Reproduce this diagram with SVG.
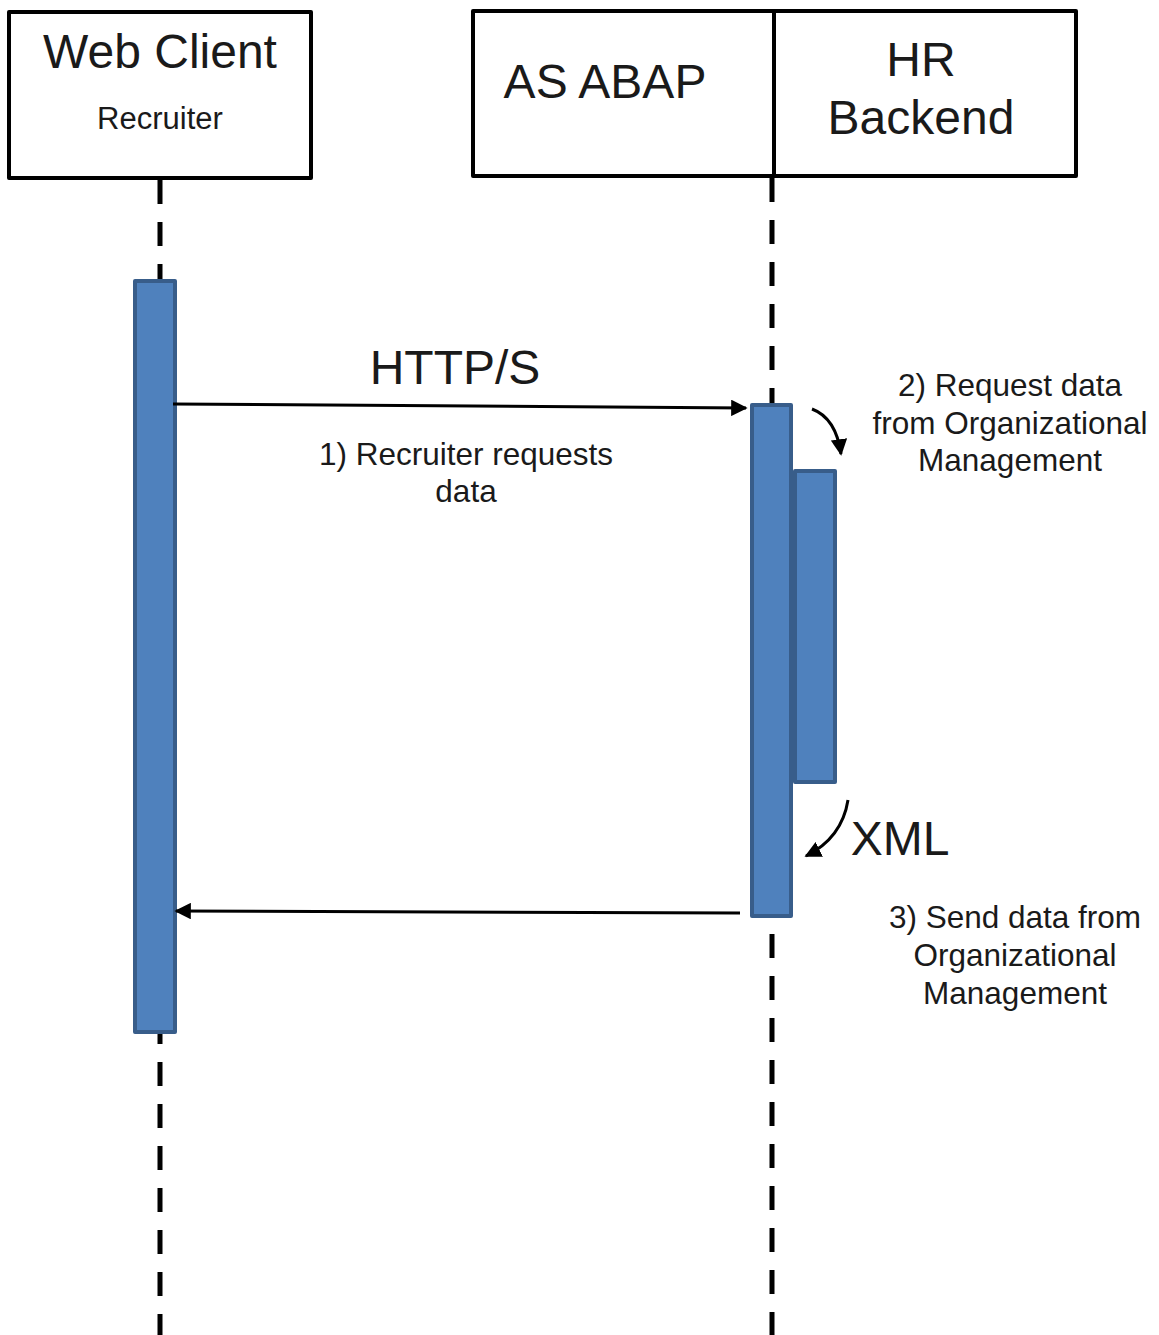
<svg xmlns="http://www.w3.org/2000/svg" width="1159" height="1335" viewBox="0 0 1159 1335">
<style>
.box{fill:#fff;stroke:#000;stroke-width:4;stroke-linejoin:round}
.life{stroke:#000;stroke-width:5;stroke-dasharray:24 18;fill:none}
.act{fill:#4F81BD;stroke:#385D8A;stroke-width:4;stroke-linejoin:round}
.msg{stroke:#000;stroke-width:3;fill:none}
.t{font-family:"Liberation Sans",Arial,sans-serif;fill:#1a1a1a;text-anchor:middle}
.big{font-size:48px}
.mid{font-size:31.5px}
</style>
<defs>
<marker id="ah" viewBox="0 0 10 10" refX="9" refY="5" markerWidth="5.5" markerHeight="5.5" markerUnits="strokeWidth" orient="auto">
<path d="M0,0 L10,5 L0,10 Z" fill="#000"/>
</marker>
</defs>
<rect width="1159" height="1335" fill="#fff"/>
<g id="lifelines">
<line class="life" x1="160" y1="180" x2="160" y2="1335"/>
<line class="life" x1="772" y1="178" x2="772" y2="1335"/>
</g>
<g id="web-client">
<rect class="box" x="9" y="12" width="302" height="166"/>
<text class="t big" x="160" y="68">Web Client</text>
<text class="t" x="160" y="129" font-size="31">Recruiter</text>
</g>
<g id="as-abap">
<rect class="box" x="473" y="11" width="301" height="165"/>
<text class="t big" x="605" y="98">AS ABAP</text>
</g>
<g id="hr-backend">
<rect class="box" x="774" y="11" width="302" height="165"/>
<text class="t big" x="921" y="76">HR</text>
<text class="t big" x="921" y="134">Backend</text>
</g>
<g id="activation-web">
<rect class="act" x="135" y="281" width="40" height="751"/>
</g>
<g id="activation-abap">
<rect class="act" x="752" y="405" width="39" height="511"/>
</g>
<g id="activation-hr">
<rect class="act" x="795" y="471" width="40" height="311"/>
</g>
<g id="connectors">
<line class="msg" x1="173" y1="404" x2="746" y2="408" marker-end="url(#ah)"/>
<line class="msg" x1="740" y1="913" x2="176" y2="911" marker-end="url(#ah)"/>
<path class="msg" d="M812,409 Q836,418 841,454" marker-end="url(#ah)"/>
<path class="msg" d="M848,800 Q842,838 806,856" marker-end="url(#ah)"/>
</g>
<g id="labels">
<text class="t big" x="455" y="384">HTTP/S</text>
<text class="t mid" x="466" y="465">1) Recruiter requests</text>
<text class="t mid" x="466" y="502">data</text>
<text class="t mid" x="1010" y="396">2) Request data</text>
<text class="t mid" x="1010" y="434">from Organizational</text>
<text class="t mid" x="1010" y="471">Management</text>
<text class="t big" x="900" y="855">XML</text>
<text class="t mid" x="1015" y="928">3) Send data from</text>
<text class="t mid" x="1015" y="966">Organizational</text>
<text class="t mid" x="1015" y="1004">Management</text>
</g>
</svg>
